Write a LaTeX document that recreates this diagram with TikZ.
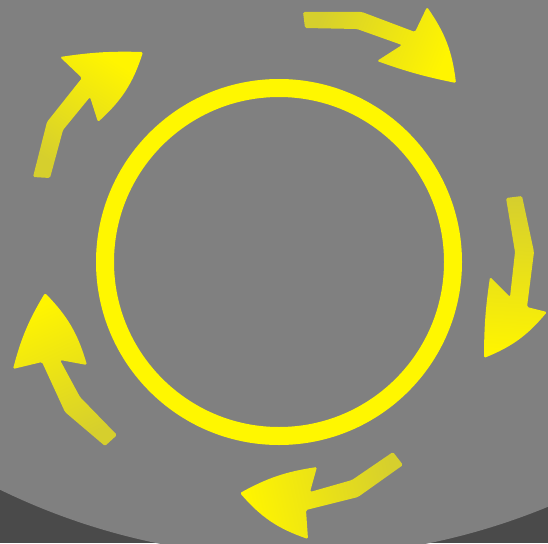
\documentclass[tikz,border=0pt]{standalone}
\usepackage{tikz}
\definecolor{bggray}{RGB}{128,128,128}
\definecolor{floorgray}{RGB}{74,74,74}
\definecolor{ringyellow}{RGB}{255,247,0}
\definecolor{headyellow}{RGB}{255,245,0}
\definecolor{tailyellow}{RGB}{214,207,45}
\tikzset{
  turnarrow/.style={top color=headyellow, bottom color=tailyellow, rounded corners=1.5pt},
  ring/.style={draw=ringyellow, line width=18pt}
}

\begin{document}
\begin{tikzpicture}[x=1pt, y=-1pt]
\useasboundingbox (0,0) rectangle (548,543);
\fill[floorgray] (0,0) rectangle (548,543);
\begin{scope}
\clip (0,0) rectangle (548,543);
\fill[bggray] (293,-113) circle (670);
\end{scope}
\draw[ring] (279,262) circle (174);
\shade[turnarrow, shading angle=-112] (415,32) -- (362,12) -- (303,12) -- (305,28) -- (357,29) -- (402,45) -- (377,61) to[bend right=4] (456,83) to[bend right=14] (427,7) -- cycle;
\shade[turnarrow, shading angle=176] (506,198) -- (515,252) -- (510,297) -- (490,277) to[bend right=4] (484,358) to[bend right=14] (547,312) -- (527,307) -- (534,252) -- (522,196) -- cycle;
\shade[turnarrow, shading angle=102] (393,452) -- (352,480) -- (310,492) -- (317,467) to[bend right=10] (240,493) to[bend right=15] (308,539) -- (306,510) -- (358,497) -- (403,465) -- cycle;
\shade[turnarrow, shading angle=24] (117,435) -- (80,397) -- (60,360) -- (87,365) to[bend right=14] (45,293) to[bend right=8] (13,369) -- (42,362) -- (65,412) -- (105,446) -- cycle;
\shade[turnarrow, shading angle=-33] (50,178) -- (63,130) -- (90,97) -- (98,122) to[bend right=15] (143,52) to[bend right=5] (60,57) -- (82,78) -- (47,122) -- (33,177) -- cycle;
\end{tikzpicture}
\end{document}
